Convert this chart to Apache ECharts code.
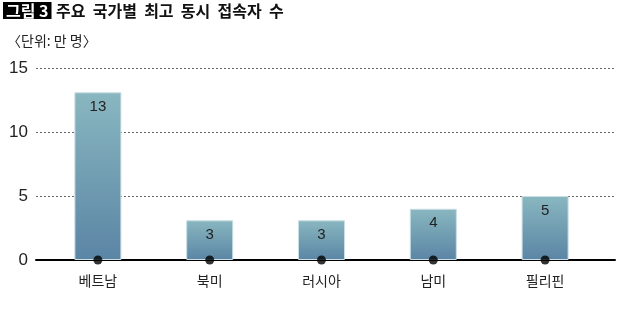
<!DOCTYPE html>
<html><head><meta charset="utf-8">
<script src="https://cdn.jsdelivr.net/npm/echarts@6/dist/echarts.min.js"></script>
<style>html,body{margin:0;padding:0;background:#fff}#c{width:640px;height:311px}</style>
</head><body><div id="c"></div>
<script>
const categories = ['베트남', '북미', '러시아', '남미', '필리핀'];
const values = [13.1, 3.1, 3.1, 4.0, 5.0];
const yTicks = [0, 5, 10, 15];

const chart = echarts.init(document.getElementById('c'));
const cjk = '"Noto Sans CJK KR", "Noto Sans", sans-serif';
chart.setOption({
  animation: false,
  title: [{
    text: '그림 3',
    left: 3, top: 2,
    backgroundColor: '#000',
    padding: [0, 3, 0, 3],
    textStyle: { color: '#fff', fontFamily: cjk, fontWeight: 'bold', fontSize: 16, lineHeight: 17 }
  }, {
    text: '주요  국가별  최고  동시  접속자  수',
    left: 56, top: 2, padding: 0,
    textStyle: { color: '#111', fontFamily: cjk, fontWeight: 'bold', fontSize: 16, lineHeight: 17 }
  }, {
    text: '〈단위: 만 명〉',
    left: 2, top: 29,
    textStyle: { color: '#222', fontFamily: cjk, fontWeight: 'normal', fontSize: 14 }
  }],
  grid: [
    { left: 36, right: 25, top: 68, bottom: 51 },
    { left: 42, right: 39, top: 68, bottom: 51 }
  ],
  xAxis: [
    { gridIndex: 0, type: 'value', min: 0, max: 1, axisLine: { show: true, onZero: true, lineStyle: { color: '#000', width: 2 } },
      axisTick: { show: false }, axisLabel: { show: false }, splitLine: { show: false } },
    { gridIndex: 1, type: 'category', data: categories, axisLine: { show: false }, axisTick: { show: false },
      axisLabel: { color: '#222', fontFamily: cjk, fontSize: 14, margin: 14 } }
  ],
  yAxis: [
    { gridIndex: 0, type: 'value', min: 0, max: 15, interval: 5,
      axisLine: { show: false }, axisTick: { show: false },
      axisLabel: { color: '#222', fontFamily: '"Liberation Sans Narrow", "Liberation Sans", sans-serif', fontSize: 17, margin: 8,
        formatter: v => yTicks.includes(v) ? String(v) : '' },
      splitLine: { show: true, lineStyle: { color: '#666', type: [2, 2], width: 1 } } },
    { gridIndex: 1, type: 'value', min: 0, max: 15, show: false, splitLine: { show: false } }
  ],
  series: [
    { type: 'bar', xAxisIndex: 1, yAxisIndex: 1, data: values, barWidth: 47,
      itemStyle: {
        color: new echarts.graphic.LinearGradient(0, 0, 0, 1, [
          { offset: 0, color: '#89b7c0' }, { offset: 1, color: '#5b85a5' }
        ]),
        borderColor: '#c9dde2', borderWidth: 1
      },
      label: { show: true, position: 'insideTop', distance: 7, color: '#222',
        fontFamily: '"Liberation Sans Narrow", "Liberation Sans", sans-serif', fontSize: 15,
        formatter: p => String(Math.round(p.value)) },
      z: 2 },
    { type: 'scatter', xAxisIndex: 1, yAxisIndex: 1, data: values.map(() => 0), symbolSize: 9,
      itemStyle: { color: '#000' }, z: 5, silent: true }
  ]
});
</script></body></html>
